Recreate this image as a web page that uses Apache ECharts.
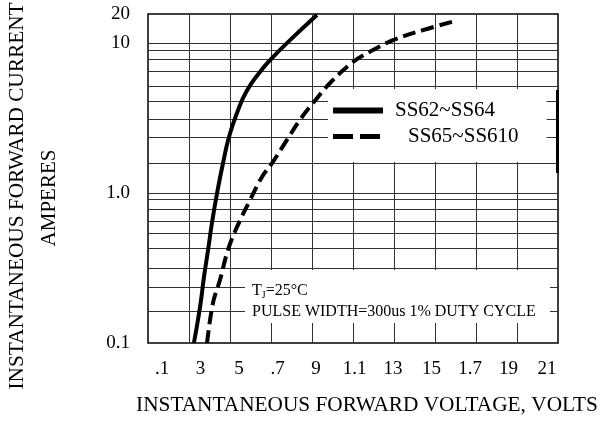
<!DOCTYPE html>
<html>
<head>
<meta charset="utf-8">
<script src="https://cdn.jsdelivr.net/npm/echarts@6/dist/echarts.min.js"></script>
<style>html,body{margin:0;padding:0;background:#fff}#c{width:611px;height:422px}</style>
</head>
<body>
<div id="c"></div>
<script>
// ---- data ----
const voltTicks = ['.1', '3', '5', '.7', '9', '1.1', '13', '15', '1.7', '19', '21'];
const currentTickValues = [0.1, 1, 10, 20];
const currentTicks = ['0.1', '1.0', '10', '20'];
const voltGrid = [0.3, 0.5, 0.7, 0.9, 1.1, 1.3, 1.5, 1.7, 1.9];
const currentGrid = [0.161, 0.236, 0.316, 0.424, 0.533, 0.65, 0.771, 0.912, 1.0,
                     1.58, 2.33, 3.11, 4.05, 5.16, 6.41, 7.71, 8.85, 10];

const ss62Name = 'SS62~SS64';
const ss62V = [0.324, 0.354, 0.373, 0.393, 0.412, 0.437, 0.466, 0.495, 0.534, 0.580, 0.646, 0.705, 0.793, 0.924];
const ss62I = [0.10, 0.174, 0.275, 0.417, 0.631, 1.0, 1.585, 2.36, 3.41, 4.75, 6.41, 7.94, 10.7, 19.5];

const ss65Name = 'SS65~SS610';
const ss65V = [0.388, 0.417, 0.451, 0.490, 0.534, 0.598, 0.656, 0.705, 0.778, 0.841, 0.905, 0.988, 1.10, 1.198, 1.295, 1.441, 1.598];
const ss65I = [0.10, 0.185, 0.263, 0.417, 0.593, 0.898, 1.28, 1.58, 2.26, 3.07, 3.98, 5.41, 7.47, 8.98, 10.7, 13.6, 16.9];

// ---- axis transform: log decades, with the compressed 10..20 band of the original ----
const TOP_SPAN = 29 / 150;
function toAxis(a) {
  return a <= 10 ? Math.log10(a) : 1 + Math.log10(a / 10) / Math.log10(2) * TOP_SPAN;
}
const yMin = toAxis(currentTickValues[0]);
const yMax = toAxis(currentTickValues[currentTickValues.length - 1]);

const FONT = 'Liberation Serif';
const chart = echarts.init(document.getElementById('c'));

const gridLines = voltGrid.map(v => ({ xAxis: v }))
  .concat(currentGrid.map(c => ({ yAxis: toAxis(c) })));

chart.setOption({
  animation: false,
  backgroundColor: '#fff',
  textStyle: { fontFamily: FONT, color: '#000' },
  grid: [
    { left: 148, right: 53, top: 14, bottom: 79, show: true, borderColor: '#000', borderWidth: 1.5, backgroundColor: 'transparent' },
    { left: 162, right: 64, top: 14, bottom: 79, show: false }
  ],
  xAxis: [
    { type: 'value', gridIndex: 0, min: 0.1, max: 2.1,
      axisLine: { show: false }, axisTick: { show: false }, axisLabel: { show: false }, splitLine: { show: false } },
    { type: 'category', gridIndex: 1, data: voltTicks, boundaryGap: false,
      axisLine: { show: false }, axisTick: { show: false }, splitLine: { show: false },
      axisLabel: { interval: 0, fontFamily: FONT, fontSize: 19, color: '#000', margin: 17 } }
  ],
  yAxis: [
    { type: 'value', gridIndex: 0, min: yMin, max: yMax, interval: 1,
      axisLine: { show: false }, axisTick: { show: false }, splitLine: { show: false },
      axisLabel: { fontFamily: FONT, fontSize: 19, color: '#000', margin: 18,
        formatter: v => {
          const i = currentTickValues.findIndex(c => Math.abs(toAxis(c) - v) < 1e-6);
          return i >= 0 ? currentTicks[i] : '';
        } } },
    { type: 'value', gridIndex: 1, show: false }
  ],
  legend: {
    left: 328, top: 89, orient: 'vertical',
    backgroundColor: '#fff', padding: [11, 28, 15, 2],
    itemWidth: 50, itemHeight: 20, itemGap: 5,
    itemStyle: { color: 'rgba(0,0,0,0)', borderWidth: 0, opacity: 0 },
    textStyle: { fontFamily: FONT, fontSize: 21, color: '#000' },
    data: [
      { name: ss62Name, textStyle: { padding: [0, 0, 0, 7] }, lineStyle: { width: 6, color: '#000' } },
      { name: ss65Name, textStyle: { padding: [0, 0, 0, 20] }, lineStyle: { width: 5, color: '#000', type: [20, 7] } }
    ]
  },
  series: [
    { name: ss62Name, type: 'line', xAxisIndex: 0, yAxisIndex: 0, smooth: 0.5,
      symbol: 'none', color: '#000', z: 3,
      lineStyle: { color: '#000', width: 4, type: 'solid' },
      data: ss62V.map((v, i) => [v, toAxis(ss62I[i])]),
      markLine: { silent: true, symbol: ['none', 'none'], label: { show: false }, z: 1,
        lineStyle: { color: '#333', width: 1, type: 'solid' }, emphasis: { disabled: true },
        data: gridLines } },
    { name: ss65Name, type: 'line', xAxisIndex: 0, yAxisIndex: 0, smooth: 0.4,
      symbol: 'none', color: '#000', z: 3,
      lineStyle: { color: '#000', width: 4, type: [13, 6] },
      data: ss65V.map((v, i) => [v, toAxis(ss65I[i])]) }
  ],
  graphic: [
    { type: 'rect', z: 100, shape: { x: 245, y: 270, width: 305, height: 53 }, style: { fill: '#fff' } },
    { type: 'text', z: 101, x: 252, y: 291,
      style: { text: '{a|T}{s|J}{a|=25°C}', verticalAlign: 'middle', align: 'left',
        rich: { a: { fontFamily: FONT, fontSize: 16, fill: '#000' },
                s: { fontFamily: FONT, fontSize: 10, fill: '#000', padding: [8, 0, 0, 0] } } } },
    { type: 'text', z: 101, x: 252, y: 312,
      style: { text: 'PULSE WIDTH=300us 1% DUTY CYCLE', fontFamily: FONT, fontSize: 16, fill: '#000',
        verticalAlign: 'middle', align: 'left' } },
    { type: 'rect', z: 100, shape: { x: 556, y: 90, width: 3, height: 83 }, style: { fill: '#000' } },
    { type: 'text', z: 101, x: 367, y: 405,
      style: { text: 'INSTANTANEOUS FORWARD VOLTAGE, VOLTS', fontFamily: FONT, fontSize: 21.3, fill: '#000',
        align: 'center', verticalAlign: 'middle' } },
    { type: 'text', z: 101, x: 17, y: 196, rotation: Math.PI / 2,
      style: { text: 'INSTANTANEOUS FORWARD CURRENT', fontFamily: FONT, fontSize: 21.3, fill: '#000',
        align: 'center', verticalAlign: 'middle' } },
    { type: 'text', z: 101, x: 49, y: 198, rotation: Math.PI / 2,
      style: { text: 'AMPERES', fontFamily: FONT, fontSize: 21, fill: '#000',
        align: 'center', verticalAlign: 'middle' } }
  ]
});
</script>
</body>
</html>
